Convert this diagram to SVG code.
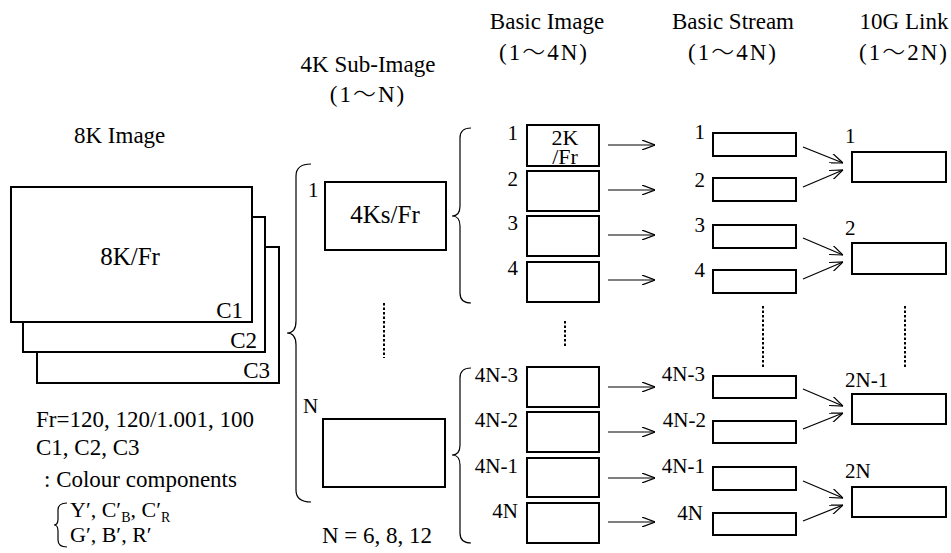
<svg xmlns="http://www.w3.org/2000/svg" width="951" height="553" viewBox="0 0 951 553" font-family="'Liberation Serif', 'Times New Roman', 'DejaVu Serif', serif">
<style>
text{fill:#000}
.h{font-size:23px;text-anchor:middle}
.p{font-size:23px;text-anchor:middle;letter-spacing:2px}
.w{font-family:"Noto Sans CJK JP","Liberation Serif",serif;font-weight:300}
.t{font-size:23px}
.big{font-size:25px;text-anchor:middle}
.n{font-size:21px}
.r{font-size:21px;text-anchor:end}
.box{fill:#fff;stroke:#000;stroke-width:2}
.br{fill:none;stroke:#000;stroke-width:1.2}
.ar{fill:none;stroke:#000;stroke-width:1.2}
.dot{fill:none;stroke:#000;stroke-width:2;stroke-dasharray:2.5,2}
</style>
<defs>
<marker id="ah" viewBox="0 0 13 10" refX="13" refY="5" markerWidth="13" markerHeight="10" markerUnits="userSpaceOnUse" orient="auto">
<path d="M0,0 L13,5 L0,10" fill="none" stroke="#000" stroke-width="1.2"/>
</marker>
</defs>
<rect width="951" height="553" fill="#fff"/>

<g id="headers">
<text class="t" x="74" y="143">8K Image</text>
<text class="h" x="368" y="72">4K Sub-Image</text>
<text class="p" x="368" y="102">(1<tspan class="w">～</tspan>N)</text>
<text class="h" x="547" y="29">Basic Image</text>
<text class="p" x="544" y="60">(1<tspan class="w">～</tspan>4N)</text>
<text class="h" x="733" y="29">Basic Stream</text>
<text class="p" x="733" y="60">(1<tspan class="w">～</tspan>4N)</text>
<text class="h" x="904" y="29">10G Link</text>
<text class="p" x="904" y="60">(1<tspan class="w">～</tspan>2N)</text>
</g>

<g id="image8k">
<rect class="box" x="37" y="247" width="242" height="136"/>
<rect class="box" x="23" y="217" width="242" height="135"/>
<rect class="box" x="11" y="187" width="241" height="135"/>
<text class="big" x="130" y="265">8K/Fr</text>
<text class="t" x="243" y="318" text-anchor="end">C1</text>
<text class="t" x="257" y="348" text-anchor="end">C2</text>
<text class="t" x="270" y="378" text-anchor="end">C3</text>
</g>

<g id="notes">
<text class="t" x="36" y="427">Fr=120, 120/1.001, 100</text>
<text class="t" x="36" y="455">C1, C2, C3</text>
<text class="t" x="44" y="487">: Colour components</text>
<path class="br" d="M67,503 Q58,503 58,510 L58,519 Q58,525 54,525 Q58,525 58,531 L58,540 Q58,547 67,547"/>
<text x="70" y="517" font-size="22">Y′, C′<tspan font-size="14" dy="5">B</tspan><tspan dy="-5">, C′</tspan><tspan font-size="14" dy="5">R</tspan></text>
<text x="70" y="542" font-size="22">G′, B′, R′</text>
<text class="t" x="322" y="543">N = 6, 8, 12</text>
</g>

<g id="sub4k">
<path class="br" d="M311,164 Q296,164 296,176 L296,321 Q296,333 287,333 Q296,333 296,345 L296,490 Q296,502 311,502"/>
<text class="n" x="308" y="197">1</text>
<rect class="box" x="325" y="182" width="121" height="68"/>
<text class="big" x="385" y="223">4Ks/Fr</text>
<line class="dot" x1="384" y1="303" x2="384" y2="358"/>
<text class="n" x="303" y="413">N</text>
<rect class="box" x="323" y="419" width="122" height="68"/>
</g>

<g id="basicImage">
<path class="br" d="M471,128 Q460,128 460,138 L460,206 Q460,216 452,216 Q460,216 460,226 L460,293 Q460,303 471,303"/>
<path class="br" d="M471,368 Q460,368 460,378 L460,445 Q460,455 452,455 Q460,455 460,465 L460,533 Q460,543 471,543"/>
<rect class="box" x="527" y="125" width="72" height="41"/>
<rect class="box" x="527" y="171" width="72" height="40"/>
<rect class="box" x="527" y="216" width="72" height="40"/>
<rect class="box" x="527" y="262" width="72" height="40"/>
<text x="565" y="145" font-size="22" text-anchor="middle">2K</text>
<text x="565" y="164" font-size="22" text-anchor="middle">/Fr</text>
<text class="r" x="518" y="140">1</text>
<text class="r" x="518" y="186">2</text>
<text class="r" x="518" y="230">3</text>
<text class="r" x="518" y="275">4</text>
<line class="dot" x1="565" y1="321" x2="565" y2="347"/>
<rect class="box" x="527" y="367" width="72" height="40"/>
<rect class="box" x="527" y="412" width="72" height="40"/>
<rect class="box" x="527" y="458" width="72" height="39"/>
<rect class="box" x="527" y="503" width="72" height="40"/>
<text class="r" x="518" y="382">4N-3</text>
<text class="r" x="518" y="427">4N-2</text>
<text class="r" x="518" y="473">4N-1</text>
<text class="r" x="518" y="518">4N</text>
</g>

<g id="basicStream">
<rect class="box" x="713" y="133" width="83" height="23"/>
<rect class="box" x="713" y="178" width="83" height="23"/>
<rect class="box" x="713" y="225" width="83" height="23"/>
<rect class="box" x="713" y="270" width="83" height="23"/>
<text class="r" x="705" y="139">1</text>
<text class="r" x="705" y="187">2</text>
<text class="r" x="705" y="232">3</text>
<text class="r" x="705" y="277">4</text>
<line class="dot" x1="763" y1="306" x2="763" y2="367"/>
<rect class="box" x="713" y="376" width="83" height="22"/>
<rect class="box" x="713" y="421" width="83" height="22"/>
<rect class="box" x="713" y="467" width="83" height="23"/>
<rect class="box" x="713" y="513" width="83" height="22"/>
<text class="r" x="705" y="381">4N-3</text>
<text class="r" x="706" y="427">4N-2</text>
<text class="r" x="705" y="473">4N-1</text>
<text class="r" x="703" y="520">4N</text>
</g>

<g id="link10g">
<rect class="box" x="852" y="152" width="94" height="30"/>
<rect class="box" x="852" y="243" width="94" height="31"/>
<text class="n" x="845" y="143">1</text>
<text class="n" x="845" y="235">2</text>
<line class="dot" x1="905" y1="306" x2="905" y2="367"/>
<rect class="box" x="852" y="394" width="94" height="30"/>
<rect class="box" x="852" y="487" width="94" height="30"/>
<text class="n" x="845" y="387">2N-1</text>
<text class="n" x="845" y="478">2N</text>
</g>

<g id="connectors">
<line class="ar" x1="608" y1="145" x2="655" y2="145" marker-end="url(#ah)"/>
<line class="ar" x1="608" y1="190" x2="655" y2="190" marker-end="url(#ah)"/>
<line class="ar" x1="608" y1="235" x2="655" y2="235" marker-end="url(#ah)"/>
<line class="ar" x1="608" y1="280" x2="655" y2="280" marker-end="url(#ah)"/>
<line class="ar" x1="608" y1="387" x2="655" y2="387" marker-end="url(#ah)"/>
<line class="ar" x1="608" y1="432" x2="655" y2="432" marker-end="url(#ah)"/>
<line class="ar" x1="608" y1="478" x2="655" y2="478" marker-end="url(#ah)"/>
<line class="ar" x1="608" y1="522" x2="655" y2="522" marker-end="url(#ah)"/>
<line class="ar" x1="803" y1="147" x2="843" y2="163" marker-end="url(#ah)"/>
<line class="ar" x1="803" y1="187" x2="843" y2="170" marker-end="url(#ah)"/>
<line class="ar" x1="803" y1="238" x2="843" y2="255" marker-end="url(#ah)"/>
<line class="ar" x1="803" y1="279" x2="843" y2="262" marker-end="url(#ah)"/>
<line class="ar" x1="803" y1="389" x2="843" y2="406" marker-end="url(#ah)"/>
<line class="ar" x1="803" y1="429" x2="843" y2="413" marker-end="url(#ah)"/>
<line class="ar" x1="803" y1="481" x2="843" y2="498" marker-end="url(#ah)"/>
<line class="ar" x1="803" y1="521" x2="843" y2="505" marker-end="url(#ah)"/>
</g>
</svg>
